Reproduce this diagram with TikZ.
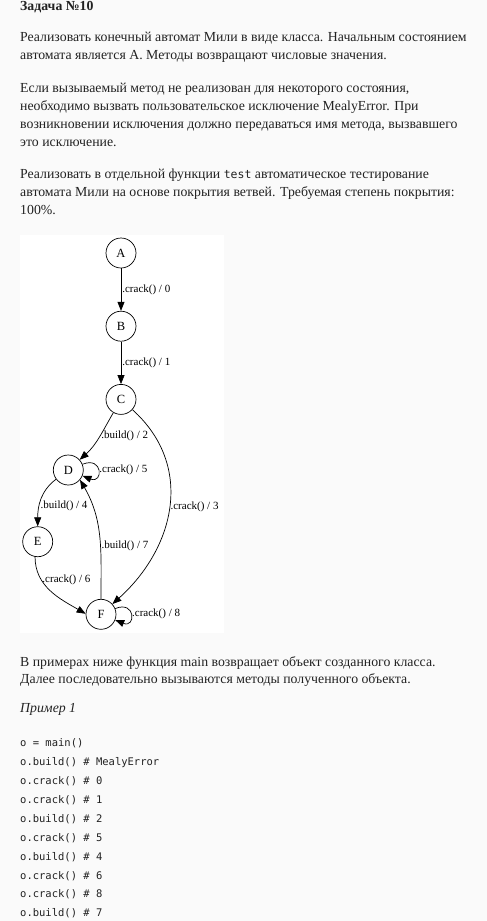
\documentclass[tikz,border=0pt]{standalone}
\usepackage{fontspec}
\setmainfont{Liberation Serif}
\setmonofont{DejaVu Sans Mono}
\usetikzlibrary{arrows.meta,positioning}

\definecolor{pagebg}{RGB}{250,250,250}
\definecolor{ink}{RGB}{34,34,34}

\tikzset{
  txt/.style={anchor=base west,inner sep=0pt,text=ink,font=\fontsize{13.8}{16}\selectfont},
  codeline/.style={anchor=base west,inner sep=0pt,text=ink,font=\ttfamily\fontsize{10.5}{12}\selectfont},
  state/.style={circle,draw,line width=0.7pt,minimum size=30pt,inner sep=0pt,font=\fontsize{12.5}{14}\selectfont},
  arr/.style={-{Triangle[length=9pt,width=7pt]},line width=0.7pt},
  lbl/.style={font=\fontsize{11}{13}\selectfont,inner sep=1pt}
}

\begin{document}
\begin{tikzpicture}[x=1pt,y=1pt,node distance=42.5pt]
  \fill[pagebg] (0,0) rectangle (487,-921);
  \useasboundingbox (0,0) rectangle (487,-921);
  \fill[white] (20,-235) rectangle (224,-633);

  % task text
  \node[txt,font=\bfseries\fontsize{13.8}{16}\selectfont] (title) at (20,-10) {Задача №10};
  \node[txt] (p1a) at (20,-41.7) {Реализовать конечный автомат Мили в виде класса. Начальным состоянием};
  \node[txt] (p1b) at (20,-59.3) {автомата является А. Методы возвращают числовые значения.};
  \node[txt] (p2a) at (20,-92.7) {Если вызываемый метод не реализован для некоторого состояния,};
  \node[txt] (p2b) at (20,-110) {необходимо вызвать пользовательское исключение MealyError. При};
  \node[txt] (p2c) at (20,-128.3) {возникновении исключения должно передаваться имя метода, вызвавшего};
  \node[txt] (p2d) at (20,-146.7) {это исключение.};
  \node[txt] (p3a) at (20,-178.3) {Реализовать в отдельной функции {\ttfamily\fontsize{11.5}{14}\selectfont test} автоматическое тестирование};
  \node[txt] (p3b) at (20,-196.7) {автомата Мили на основе покрытия ветвей. Требуемая степень покрытия:};
  \node[txt] (p3c) at (20,-214.3) {100\%.};

  % automaton
  \node[state] (A) at (121,-253) {A};
  \node[state,below=of A] (B) {B};
  \node[state,below=of B] (C) {C};
  \node[state] (D) at (68.3,-470) {D};
  \node[state] (E) at (37.7,-541.7) {E};
  \node[state] (F) at (101,-614.3) {F};

  \draw[arr] (A) -- node[lbl,right] {.crack() / 0} (B);
  \draw[arr] (B) -- node[lbl,right] {.crack() / 1} (C);
  \draw[arr] (C.-120) to[out=-120,in=42] node[lbl,right,pos=.45] {.build() / 2} (D.42);
  \draw[arr] (C.-42) to[out=-42,in=42,looseness=1.1] node[lbl,right] {.crack() / 3} (F.42);
  \draw[arr] (D) to[out=22,in=-22,looseness=5,min distance=9pt] node[lbl,right] {.crack() / 5} (D);
  \draw[arr] (D.-143) to[out=-143,in=90] node[lbl,right,pos=.62] {.build() / 4} (E.90);
  \draw[arr] (E.-100) to[out=-90,in=150] node[lbl,right,pos=.3] {.crack() / 6} (F.178);
  \draw[arr] (F.north) to[out=90,in=-60] node[lbl,right,pos=.42] {.build() / 7} (D.-40);
  \draw[arr] (F) to[out=22,in=-22,looseness=5,min distance=9pt] node[lbl,right] {.crack() / 8} (F);

  % examples
  \node[txt] (p4a) at (20,-666) {В примерах ниже функция main возвращает объект созданного класса.};
  \node[txt] (p4b) at (20,-683.3) {Далее последовательно вызываются методы полученного объекта.};
  \node[txt,font=\itshape\fontsize{13.8}{16}\selectfont] (ex1) at (20,-712.7) {Пример 1};
  \foreach \t [count=\i] in {{o = main()},{o.build() \# MealyError},{o.crack() \# 0},{o.crack() \# 1},
      {o.build() \# 2},{o.crack() \# 5},{o.build() \# 4},{o.crack() \# 6},{o.crack() \# 8},{o.build() \# 7}}
    \node[codeline] (code\i) at (20,{-746.7-18.9*(\i-1)}) {\t};
\end{tikzpicture}
\end{document}
